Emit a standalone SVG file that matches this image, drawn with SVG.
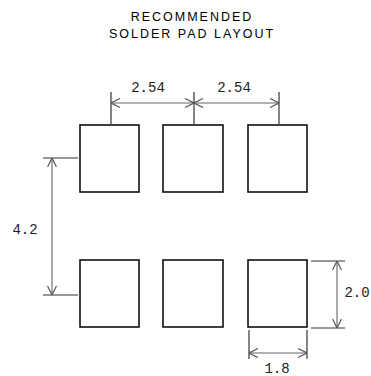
<svg xmlns="http://www.w3.org/2000/svg" width="371" height="376" viewBox="0 0 371 376">
<defs>
<marker id="ah" viewBox="0 0 10 10" refX="10" refY="5" markerWidth="10" markerHeight="10" markerUnits="userSpaceOnUse" orient="auto-start-reverse">
<path d="M1,0.5 L10,5 L1,9.5" fill="none" stroke="#555" stroke-width="1.2"/>
</marker>
<style>
.pad{fill:#fff;stroke:#111;stroke-width:1.6}
.ext{stroke:#333;stroke-width:1.2;fill:none}
.dim{stroke:#666;stroke-width:1.1;fill:none;marker-start:url(#ah);marker-end:url(#ah)}
.title{font-family:"Liberation Sans",Arial,sans-serif;font-size:12.5px;letter-spacing:2px;fill:#000;text-anchor:middle}
.lbl{font-family:"Liberation Mono","DejaVu Sans Mono",monospace;font-size:14px;fill:#222;text-anchor:middle}
</style>
</defs>
<rect width="371" height="376" fill="#fff"/>
<g id="title">
<text class="title" x="192" y="21">RECOMMENDED</text>
<text class="title" x="192" y="38">SOLDER PAD LAYOUT</text>
</g>
<g id="pad-top-1"><rect class="pad" x="80" y="125" width="59" height="67"/></g>
<g id="pad-top-2"><rect class="pad" x="163" y="125" width="60" height="67"/></g>
<g id="pad-top-3"><rect class="pad" x="248" y="125" width="59" height="67"/></g>
<g id="pad-bot-1"><rect class="pad" x="80" y="260" width="59" height="67"/></g>
<g id="pad-bot-2"><rect class="pad" x="163" y="260" width="60" height="67"/></g>
<g id="pad-bot-3"><rect class="pad" x="248" y="260" width="59" height="67"/></g>
<g id="connectors">
<line class="ext" x1="111" y1="92" x2="111" y2="124"/>
<line class="ext" x1="194" y1="92" x2="194" y2="124"/>
<line class="ext" x1="279" y1="92" x2="279" y2="124"/>
<line class="dim" x1="111" y1="103" x2="194" y2="103"/>
<line class="dim" x1="194" y1="103" x2="279" y2="103"/>
<line class="ext" x1="43" y1="158" x2="78" y2="158"/>
<line class="ext" x1="43" y1="295" x2="78" y2="295"/>
<line class="dim" x1="52" y1="158" x2="52" y2="295"/>
<line class="ext" x1="311" y1="261" x2="345" y2="261"/>
<line class="ext" x1="311" y1="328" x2="345" y2="328"/>
<line class="dim" x1="337" y1="261" x2="337" y2="328"/>
<line class="ext" x1="249" y1="330" x2="249" y2="359"/>
<line class="ext" x1="307" y1="330" x2="307" y2="359"/>
<line class="dim" x1="249" y1="353" x2="307" y2="353"/>
</g>
<g id="labels">
<text class="lbl" x="148" y="92">2.54</text>
<text class="lbl" x="234" y="92">2.54</text>
<text class="lbl" x="25" y="234">4.2</text>
<text class="lbl" x="357" y="297">2.0</text>
<text class="lbl" x="277" y="373">1.8</text>
</g>
</svg>
